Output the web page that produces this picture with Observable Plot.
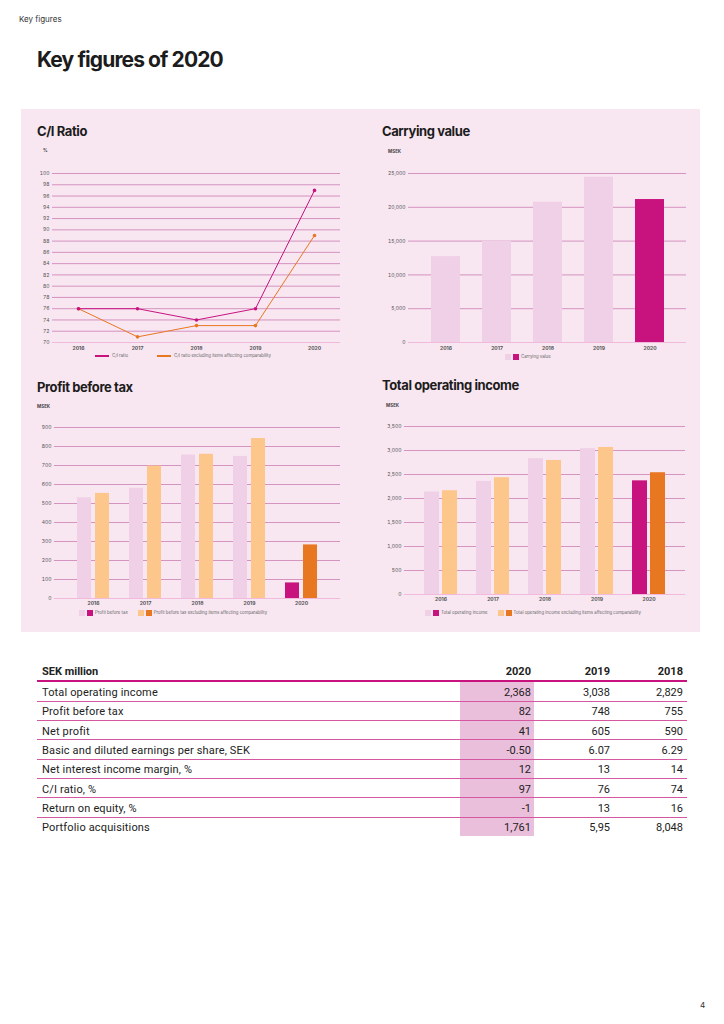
<!DOCTYPE html>
<html><head><meta charset="utf-8">
<script src="https://cdn.jsdelivr.net/npm/d3@7"></script>
<script src="https://cdn.jsdelivr.net/npm/@observablehq/plot@0.6"></script>
<style>
html,body{margin:0;padding:0}
body{width:724px;height:1024px;position:relative;background:#fff;font-family:Inter,"Noto Sans",sans-serif;color:#1c1c1c;overflow:hidden}
.abs{position:absolute;white-space:nowrap;line-height:1}
.panel{position:absolute;left:21px;top:109px;width:679px;height:523px;background:#f8e6f1}
.ctitle{font-weight:700;font-size:13px;letter-spacing:-0.4px;color:#1c1c1c}
.unit{font-size:4.5px;font-weight:700;color:#444}
.leg{font-size:4.3px;color:#666;display:flex;align-items:center}
.sw{display:inline-block;width:6px;height:6px;margin-right:2px}
.ln{display:inline-block;width:14px;height:2px;margin-right:3px}
.chart{position:absolute}
.chart svg g[aria-label="x-axis tick label"] text{font-weight:700}
.tb{font-family:Roboto,sans-serif;font-size:11px;color:#222}
</style></head><body>
<div class="abs" style="left:19px;top:15px;font-size:8px;color:#333">Key figures</div>
<div class="abs" style="left:37px;top:49px;font-size:21px;font-weight:700;letter-spacing:-0.9px">Key figures of 2020</div>
<div class="panel"></div>

<div class="abs ctitle" style="left:37px;top:125px">C/I Ratio</div>
<div class="abs ctitle" style="left:382px;top:125px">Carrying value</div>
<div class="abs ctitle" style="left:37px;top:381px">Profit before tax</div>
<div class="abs ctitle" style="left:382px;top:379px">Total operating income</div>

<div class="abs unit" style="left:43px;top:149px">%</div>
<div class="abs unit" style="left:388px;top:150px">MSEK</div>
<div class="abs unit" style="left:37px;top:405px">MSEK</div>
<div class="abs unit" style="left:386px;top:404px">MSEK</div>

<div id="c1" class="chart" style="left:22px;top:140px"></div>
<div id="c2" class="chart" style="left:372px;top:140px"></div>
<div id="c3" class="chart" style="left:22px;top:400px"></div>
<div id="c4" class="chart" style="left:372px;top:400px"></div>

<div id="l1" class="abs leg" style="left:95px;top:354px"></div>
<div id="l2" class="abs leg" style="left:505px;top:354px"></div>
<div id="l3" class="abs leg" style="left:79px;top:610px"></div>
<div id="l4" class="abs leg" style="left:425px;top:610px"></div>

<div id="table"></div>
<div class="abs" style="left:700px;top:1001px;font-size:8px;color:#333">4</div>

<script>
// ---- data ----
const years = ["2016","2017","2018","2019","2020"];
const ciRatio = [76, 76, 74, 76, 97];
const ciRatioExcl = [76, 71, 73, 73, 89];
const carryingValue = [12700, 15000, 20750, 24450, 21150];
const profitBeforeTax = [530, 580, 755, 748, 82];
const profitBeforeTaxExcl = [553, 697, 759, 842, 282];
const operatingIncome = [2135, 2356, 2829, 3038, 2368];
const operatingIncomeExcl = [2162, 2433, 2793, 3063, 2537];
const ciTicks = [70,72,74,76,78,80,82,84,86,88,90,92,94,96,98,100];
const carryingTicks = [0,5000,10000,15000,20000,25000];
const profitTicks = [0,100,200,300,400,500,600,700,800,900];
const incomeTicks = [0,500,1000,1500,2000,2500,3000,3500];

const tableHeader = ["SEK million","2020","2019","2018"];
const tableRows = ["Total operating income","Profit before tax","Net profit","Basic and diluted earnings per share, SEK","Net interest income margin, %","C/I ratio, %","Return on equity, %","Portfolio acquisitions"];
const col2020 = ["2,368","82","41","-0.50","12","97","-1","1,761"];
const col2019 = ["3,038","748","605","6.07","13","76","13","5,95"];
const col2018 = ["2,829","755","590","6.29","14","74","16","8,048"];

const legend1 = ["C/I ratio","C/I ratio excluding items affecting comparability"];
const legend2 = ["Carrying value"];
const legend3 = ["Profit before tax","Profit before tax excluding items affecting comparability"];
const legend4 = ["Total operating income","Total operating income excluding items affecting comparability"];

// ---- colors ----
const MAG = "#c8137f", PINK = "#efd0e6", ORA = "#e87722", LORA = "#fdc68b";
const GRID = "#cc7db3", BASE = "#f1b9db";
const style = {background:"transparent", fontSize:"5px", color:"#555", fontFamily:"Inter, sans-serif", overflow:"visible"};
const fmt = d3.format(",");

// C/I ratio line chart
const ciData = years.map((y,i)=>({year:y, ci:ciRatio[i], excl:ciRatioExcl[i]}));
document.getElementById("c1").append(Plot.plot({
  width:330, height:214, marginLeft:30, marginRight:12, marginTop:33, marginBottom:12,
  style,
  x:{type:"point", domain:years, padding:0.42, label:null, tickSize:0, tickPadding:4},
  y:{domain:[70,100], ticks:ciTicks, label:null, tickSize:0, tickPadding:3},
  marks:[
    Plot.ruleY(ciTicks.slice(1), {stroke:GRID, strokeWidth:0.8}),
    Plot.ruleY([70], {stroke:BASE, strokeWidth:1.2}),
    Plot.line(ciData, {x:"year", y:"excl", stroke:ORA, strokeWidth:1}),
    Plot.dot(ciData, {x:"year", y:"excl", fill:ORA, r:1.8}),
    Plot.line(ciData, {x:"year", y:"ci", stroke:MAG, strokeWidth:1}),
    Plot.dot(ciData, {x:"year", y:"ci", fill:MAG, r:1.8})
  ]
}));

// Carrying value bars
const cvData = years.map((y,i)=>({year:y, value:carryingValue[i], kind: y==="2020"?"current":"past"}));
document.getElementById("c2").append(Plot.plot({
  width:324, height:214, marginLeft:36, marginRight:10, marginTop:33, marginBottom:12,
  style,
  x:{type:"band", domain:years, paddingInner:0.437, paddingOuter:0.418, label:null, tickSize:0, tickPadding:4},
  y:{domain:[0,25000], ticks:carryingTicks, tickFormat:fmt, label:null, tickSize:0, tickPadding:3},
  color:{type:"ordinal", domain:["past","current"], range:[PINK, MAG]},
  marks:[
    Plot.ruleY(carryingTicks.slice(1), {stroke:GRID, strokeWidth:0.8}),
    Plot.barY(cvData, {x:"year", y:"value", fill:"kind"}),
    Plot.ruleY([0], {stroke:BASE, strokeWidth:1.2})
  ]
}));

function grouped(el, a, b, ticks, opts){
  const data = years.map((y,i)=>({year:y, a:a[i], b:b[i], ka: y==="2020"?"curA":"pastA", kb: y==="2020"?"curB":"pastB"}));
  document.getElementById(el).append(Plot.plot({
    width:opts.width, height:opts.height, marginLeft:opts.marginLeft, marginRight:opts.marginRight,
    marginTop:opts.marginTop, marginBottom:opts.marginBottom,
    style,
    x:{type:"band", domain:years, paddingInner:opts.pi, paddingOuter:opts.po, label:null, tickSize:0, tickPadding:3},
    y:{domain:[0, ticks[ticks.length-1]], ticks, tickFormat:fmt, label:null, tickSize:0, tickPadding:3},
    color:{type:"ordinal", domain:["pastA","curA","pastB","curB"], range:[PINK, MAG, LORA, ORA]},
    marks:[
      Plot.ruleY(ticks.slice(1), {stroke:GRID, strokeWidth:0.8}),
      Plot.barY(data, {x:"year", y:"a", fill:"ka", insetLeft:2, insetRight:20}),
      Plot.barY(data, {x:"year", y:"b", fill:"kb", insetLeft:20, insetRight:2}),
      Plot.ruleY([0], {stroke:BASE, strokeWidth:1.2})
    ]
  }));
}
grouped("c3", profitBeforeTax, profitBeforeTaxExcl, profitTicks,
  {width:328, height:210, marginLeft:32, marginRight:10, marginTop:27, marginBottom:12, pi:0.3, po:0.353});
grouped("c4", operatingIncome, operatingIncomeExcl, incomeTicks,
  {width:324, height:206, marginLeft:32, marginRight:11, marginTop:26, marginBottom:12, pi:0.291, po:0.337});

// legends
function lineLegend(id, labels, colors){
  const el = document.getElementById(id);
  labels.forEach((t,i)=>{
    const s = document.createElement("span"); s.className="ln"; s.style.background=colors[i];
    if(i>0) s.style.marginLeft="29px";
    el.append(s, document.createTextNode(t));
  });
}
function boxLegend(id, labels, pairs){
  const el = document.getElementById(id);
  labels.forEach((t,i)=>{
    pairs[i].forEach((c,j)=>{
      const s = document.createElement("span"); s.className="sw"; s.style.background=c;
      if(i>0 && j===0) s.style.marginLeft="10px";
      el.append(s);
    });
    el.append(document.createTextNode(t));
  });
}
lineLegend("l1", legend1, [MAG, ORA]);
boxLegend("l2", legend2, [[PINK, MAG]]);
boxLegend("l3", legend3, [[PINK, MAG],[LORA, ORA]]);
boxLegend("l4", legend4, [[PINK, MAG],[LORA, ORA]]);

// table
const T = document.getElementById("table");
function add(txt, css, cls){ const d=document.createElement("div"); d.className="abs "+(cls||""); d.style.cssText=css; d.textContent=txt; T.append(d); return d; }
const rowH = 19.3, y0 = 682;
add("", `left:460px;top:${y0}px;width:74px;height:${rowH*8}px;background:#eabfdc`);
add("", `left:37px;top:680px;width:650px;height:2px;background:${MAG}`);
const hdrY = 666;
add(tableHeader[0], `left:42px;top:${hdrY}px;font-weight:700`, "tb");
const rights = [531, 610, 683];
[1,2,3].forEach((k,j)=> add(tableHeader[k], `right:${724-rights[j]}px;top:${hdrY}px;font-weight:700`, "tb"));
tableRows.forEach((r,i)=>{
  const top = y0 + i*rowH + 5;
  add(r, `left:42px;top:${top}px;letter-spacing:0.15px`, "tb");
  [col2020, col2019, col2018].forEach((col,j)=> add(col[i], `right:${724-rights[j]}px;top:${top}px`, "tb"));
  if(i<tableRows.length-1) add("", `left:37px;top:${y0+(i+1)*rowH-0.5}px;width:650px;height:1px;background:#d4579f`);
});
</script>
</body></html>
